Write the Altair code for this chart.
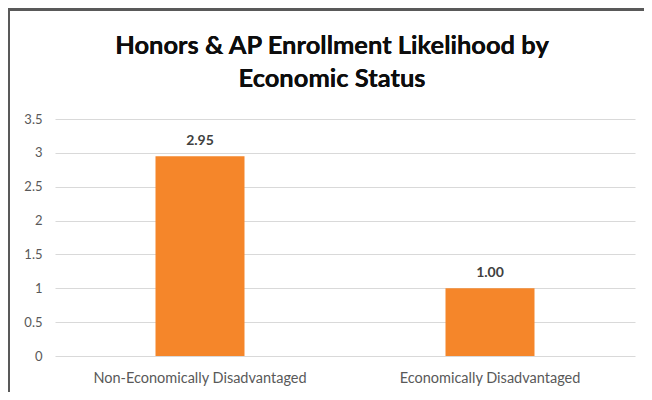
import altair as alt
import pandas as pd

categories = ["Non-Economically Disadvantaged", "Economically Disadvantaged"]
values = [2.95, 1.00]
labels = ["2.95", "1.00"]
y_ticks = [0, 0.5, 1, 1.5, 2, 2.5, 3, 3.5]
title_lines = ["Honors & AP Enrollment Likelihood by", "Economic Status"]

df = pd.DataFrame({"cat": categories, "val": values, "lab": labels})

FONT = "Lato"

x_enc = alt.X("cat:N", sort=categories, title=None,
              scale=alt.Scale(paddingInner=0, paddingOuter=0),
              axis=alt.Axis(labelAngle=0, labelFontSize=14.5, labelColor="#595959",
                            labelFont=FONT, ticks=False, domain=False, labelPadding=15,
                            labelLimit=400))
y_enc = alt.Y("val:Q", title=None,
              scale=alt.Scale(domain=[0, 3.5], nice=False),
              axis=alt.Axis(values=y_ticks, labelFontSize=13, labelColor="#595959",
                            labelFont=FONT, ticks=False, domain=False, labelPadding=13,
                            format="~g", labelOverlap=False,
                            gridColor="#d9d9d9", gridWidth=1))

bars = alt.Chart(df).mark_bar(color="#F5862A", size=89).encode(x=x_enc, y=y_enc)
text = alt.Chart(df).mark_text(baseline="bottom", dy=-8, fontSize=14, fontWeight="bold",
                               color="#404040", font=FONT).encode(
    x=x_enc, y=y_enc, text="lab:N")

title_style = dict(fontSize=25.5, fontWeight="bold", font=FONT, color="#0d0d0d",
                   baseline="alphabetic")
title1 = alt.Chart(df).mark_text(**title_style).encode(
    x=alt.value(277), y=alt.value(-65), text=alt.value(title_lines[0]))
title2 = alt.Chart(df).mark_text(**title_style).encode(
    x=alt.value(277), y=alt.value(-32), text=alt.value(title_lines[1]))

top_border = alt.Chart(df).mark_rule(color="#595959", strokeWidth=4).encode(
    x=alt.value(-47), x2=alt.value(589), y=alt.value(-110))
left_border = alt.Chart(df).mark_rule(color="#595959", strokeWidth=2).encode(
    x=alt.value(-46), y=alt.value(-111), y2=alt.value(273))

chart = alt.layer(bars, text, title1, title2, top_border, left_border).properties(
    width=580, height=237,
    padding={"left": 47, "top": 111, "right": 9, "bottom": 36},
    autosize=alt.AutoSizeParams(type="none"),
).configure_view(stroke=None)

chart.save("out.html", embed_options={"renderer": "svg", "actions": False})
